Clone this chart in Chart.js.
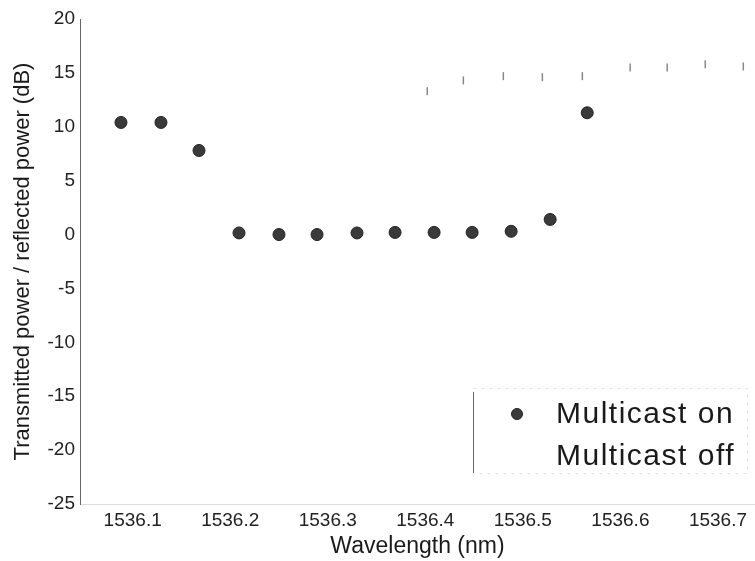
<!DOCTYPE html>
<html>
<head>
<meta charset="utf-8">
<script src="https://cdn.jsdelivr.net/npm/chart.js@4/dist/chart.umd.min.js"></script>
<style>
  html, body { margin: 0; padding: 0; background: #fff; }
  #wrap { width: 755px; height: 561px; }
</style>
</head>
<body>
<div id="wrap"><canvas id="myChart" width="755" height="561"></canvas></div>
<script>
// values
const onWavelengths = [1536.088, 1536.129, 1536.168, 1536.209, 1536.250, 1536.289, 1536.330, 1536.369, 1536.409, 1536.448, 1536.488, 1536.528, 1536.566];
const onPower = [10.4, 10.4, 7.8, 0.15, 0.0, 0.0, 0.15, 0.2, 0.2, 0.2, 0.3, 1.4, 11.3];

const offWavelengths = [1536.402, 1536.439, 1536.480, 1536.520, 1536.561, 1536.610, 1536.648, 1536.687, 1536.726];
const offPower = [13.3, 14.3, 14.7, 14.6, 14.7, 15.5, 15.5, 15.8, 15.6];

const xTickValues = [1536.1, 1536.2, 1536.3, 1536.4, 1536.5, 1536.6, 1536.7];
const xTickLabels = ['1536.1', '1536.2', '1536.3', '1536.4', '1536.5', '1536.6', '1536.7'];
const seriesNames = ['Multicast on', 'Multicast off'];

const FONT = "'Liberation Sans', Arial, Helvetica, sans-serif";

const onPoints = onWavelengths.map((w, i) => ({ x: w, y: onPower[i] }));
const offPoints = offWavelengths.map((w, i) => ({ x: w, y: offPower[i] }));

// legend drawn inside the plot, bottom right, like the scan
const insideLegend = {
    id: 'insideLegend',
    afterDatasetsDraw(chart) {
        const ctx = chart.ctx;
        const area = chart.chartArea;
        const boxLeft = area.right - 282;
        const boxTop = area.bottom - 116;
        const boxBottom = area.bottom - 31;
        ctx.save();
        ctx.strokeStyle = '#e2e2e2';
        ctx.lineWidth = 1;
        ctx.setLineDash([3, 5]);
        ctx.strokeRect(boxLeft + 0.5, boxTop + 0.5, 274, boxBottom - boxTop);
        ctx.setLineDash([]);
        ctx.strokeStyle = '#666';
        ctx.beginPath();
        ctx.moveTo(boxLeft + 0.5, boxTop + 4);
        ctx.lineTo(boxLeft + 0.5, boxBottom);
        ctx.stroke();

        ctx.fillStyle = '#3a3a3a';
        ctx.strokeStyle = '#222';
        ctx.beginPath();
        ctx.arc(boxLeft + 44, boxTop + 26, 5.5, 0, Math.PI * 2);
        ctx.fill();
        ctx.stroke();

        ctx.fillStyle = '#1a1a1a';
        ctx.font = '30px ' + FONT;
        if ('letterSpacing' in ctx) ctx.letterSpacing = '1.5px';
        ctx.textAlign = 'left';
        ctx.textBaseline = 'alphabetic';
        ctx.fillText(seriesNames[0], boxLeft + 83, boxTop + 35);
        ctx.fillText(seriesNames[1], boxLeft + 83, boxTop + 77);
        ctx.restore();
    }
};

const ctx = document.getElementById('myChart').getContext('2d');
const myChart = new Chart(ctx, {
    type: 'scatter',
    data: {
        datasets: [
            {
                label: seriesNames[0],
                data: onPoints,
                backgroundColor: '#3a3a3a',
                borderColor: '#222',
                borderWidth: 1,
                pointRadius: 6,
                showLine: false
            },
            {
                label: seriesNames[1],
                data: offPoints,
                pointStyle: 'line',
                rotation: 90,
                borderColor: 'rgba(40,40,40,0.55)',
                borderWidth: 1.5,
                pointRadius: 4,
                showLine: false
            }
        ]
    },
    options: {
        responsive: false,
        animation: false,
        layout: { autoPadding: false, padding: { top: 19, right: 0, bottom: 0, left: 0 } },
        plugins: {
            legend: { display: false },
            tooltip: { enabled: false }
        },
        scales: {
            x: {
                type: 'linear',
                min: 1536.046,
                max: 1536.738,
                afterFit(scale) {
                    scale.height = 57;
                    scale.paddingLeft = 0;
                    scale.paddingRight = 0;
                },
                afterBuildTicks(scale) {
                    scale.ticks = xTickValues.map(v => ({ value: v }));
                },
                ticks: {
                    padding: 5,
                    color: '#222',
                    font: { family: FONT, size: 19 },
                    callback(value) {
                        const i = xTickValues.findIndex(v => Math.abs(v - value) < 1e-6);
                        return i >= 0 ? xTickLabels[i] : '';
                    }
                },
                grid: { display: true, drawOnChartArea: false, drawTicks: false },
                border: { display: true, color: '#dcdcdc', dash: [2, 5] },
                title: {
                    display: true,
                    text: 'Wavelength (nm)',
                    color: '#1a1a1a',
                    font: { family: FONT, size: 23, lineHeight: 1 },
                    padding: { top: 0, bottom: 3 }
                }
            },
            y: {
                min: -25,
                max: 20,
                afterFit(scale) {
                    scale.width = 80;
                    scale.paddingTop = 0;
                    scale.paddingBottom = 0;
                },
                ticks: {
                    stepSize: 5,
                    padding: 5,
                    color: '#222',
                    font: { family: FONT, size: 19 }
                },
                grid: { display: true, drawOnChartArea: false, drawTicks: false },
                border: { display: true, color: '#666', width: 1 },
                title: {
                    display: true,
                    text: 'Transmitted power / reflected power (dB)',
                    color: '#1a1a1a',
                    font: { family: FONT, size: 22, lineHeight: 1 },
                    padding: { top: 12, bottom: 0 }
                }
            }
        }
    },
    plugins: [insideLegend]
});
</script>
</body>
</html>
